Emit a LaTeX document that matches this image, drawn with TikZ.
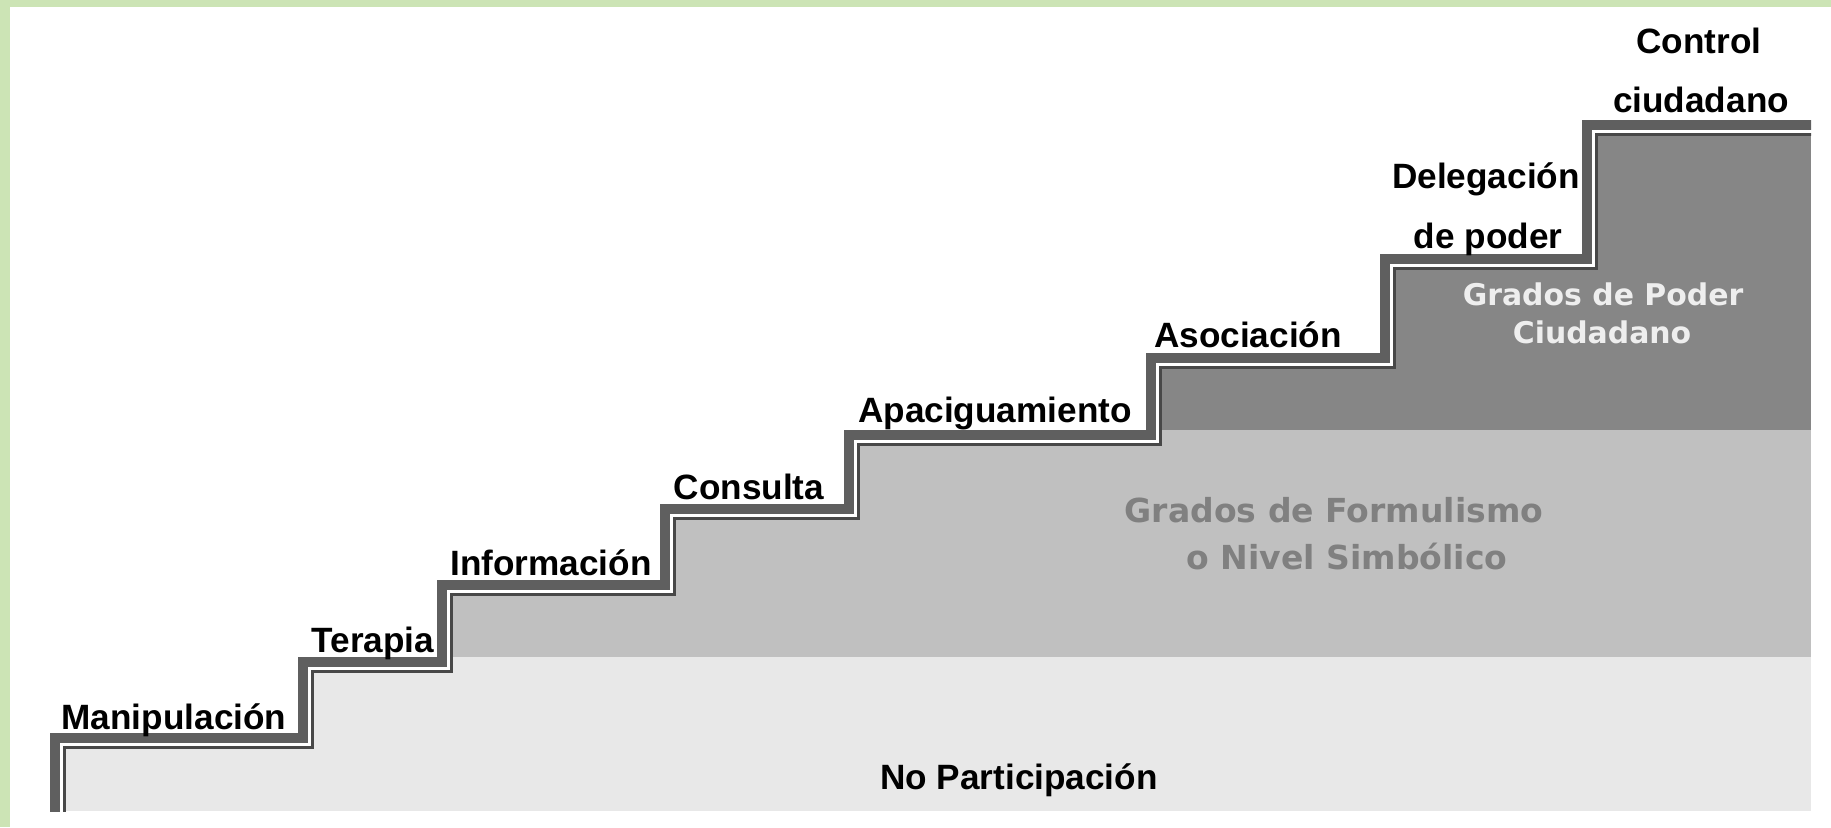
\documentclass[tikz,border=0pt]{standalone}
\usepackage{fontspec}
\setmainfont{Liberation Sans}
\newfontfamily\dejavu{DejaVu Sans}
\usetikzlibrary{positioning}

\definecolor{frame}{RGB}{204,228,181}
\definecolor{lightband}{RGB}{232,232,232}
\definecolor{midband}{RGB}{192,192,192}
\definecolor{darkband}{RGB}{134,134,134}
\definecolor{stepline}{RGB}{95,95,95}
\definecolor{thinline}{RGB}{72,72,72}
\definecolor{symtext}{RGB}{128,128,128}
\definecolor{powtext}{RGB}{238,238,238}

\begin{document}
\begin{tikzpicture}[
x=0.01cm, y=-0.01cm,
lbl/.style={font=\bfseries\fontsize{10}{12}\selectfont, anchor=base, inner sep=0pt},
pow/.style={font=\dejavu\bfseries\fontsize{8.5}{10}\selectfont, text=powtext, anchor=base, inner sep=0pt},
sym/.style={font=\dejavu\bfseries\fontsize{9.4}{11}\selectfont, text=symtext, anchor=base, inner sep=0pt}
]

\tikzstyle{thick line} = [stepline, line width=0.1cm]
\tikzstyle{gap line} = [white, line width=0.03cm]
\tikzstyle{thin line} = [thinline, line width=0.03cm]
\def\stairs{(50,811) -- (50,733) -- (298,733) -- (298,657) -- (437,657) -- (437,580)
  -- (660,580) -- (660,504) -- (844,504) -- (844,430) -- (1146,430) -- (1146,353)
  -- (1380,353) -- (1380,254) -- (1582,254) -- (1582,120) -- (1811,120)}

\useasboundingbox (0,0) rectangle (1831,827);
\fill[frame] (0,0) rectangle (1831,7);
\fill[frame] (0,0) rectangle (10,827);

% bands under the stairs
\begin{scope}
\clip \stairs -- (1811,811) -- cycle;
\fill[darkband] (0,0) rectangle (1811,430);
\fill[midband] (0,430) rectangle (1811,657);
\fill[lightband] (0,657) rectangle (1811,811);
\end{scope}

% stair edge
\begin{scope}
\clip (0,0) rectangle (1811,811);
\draw[thick line, shift={(5,5)}] \stairs;
\draw[gap line, shift={(11.5,11.5)}] \stairs;
\draw[thin line, shift={(14.5,14.5)}] \stairs;
\end{scope}

\node[lbl] (manip) at (174,729) {Manipulación};
\node[lbl] (terapia) at (373,652) {Terapia};
\node[lbl] (info) at (551,575) {Información};
\node[lbl] (consulta) at (749,499) {Consulta};
\node[lbl] (apac) at (995,422) {Apaciguamiento};
\node[lbl] (asoc) at (1248,347) {Asociación};
\node[lbl] (deleg) at (1486,188) {Delegación};
\node[lbl] (poder) at (1488,248) {de poder};
\node[lbl] (control) at (1699,53) {Control};
\node[lbl] (ciud) at (1701,112) {ciudadano};

\node[pow] (gpoder) at (1603,305) {Grados de Poder};
\node[pow] (gciud) at (1602,343) {Ciudadano};
\node[sym] (gform) at (1334,522) {Grados de Formulismo};
\node[sym] (gsimb) at (1347,569) {o Nivel Simbólico};
\node[lbl] (nopart) at (1019,789) {No Participación};
\end{tikzpicture}
\end{document}
